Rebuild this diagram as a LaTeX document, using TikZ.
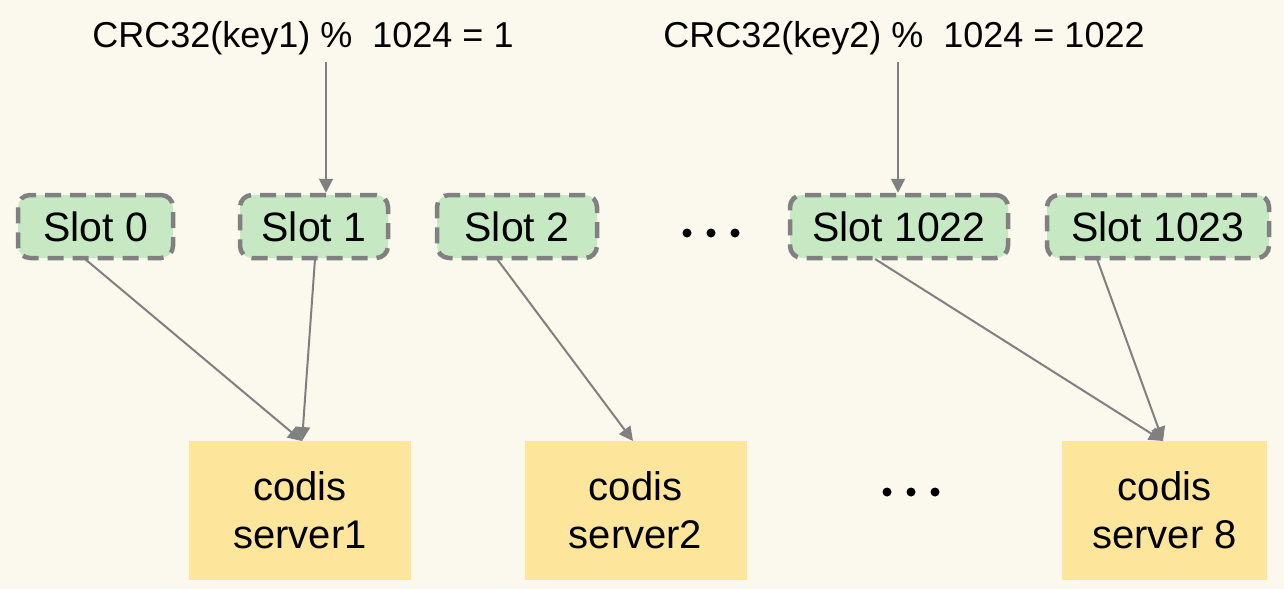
\documentclass[tikz,border=0pt]{standalone}
\usepackage{fontspec}
\setmainfont{Liberation Sans}
\usetikzlibrary{arrows.meta}
\definecolor{bg}{HTML}{FBF8EE}
\definecolor{slotfill}{HTML}{C6E8C2}
\definecolor{edge}{HTML}{808080}
\definecolor{srvfill}{HTML}{FDE59B}
\begin{document}
\begin{tikzpicture}[x=1pt,y=-1pt,
  slotbox/.style={draw=edge, fill=slotfill, line width=4.5pt, dash pattern=on 16pt off 9pt,
    rounded corners=12pt, minimum height=63pt, inner sep=0pt, font=\fontsize{41}{48}\selectfont},
  srvbox/.style={fill=srvfill, minimum width=222pt, minimum height=139pt, inner sep=0pt,
    align=center, font=\fontsize{40}{48}\selectfont},
  conn/.style={draw=edge, line width=2pt, -{Triangle[length=14pt,width=14pt]}},
  toptext/.style={font=\fontsize{36}{42}\selectfont, inner sep=0pt},
  dotmark/.style={circle, fill=black, minimum size=9pt, inner sep=0pt}]
\fill[bg] (0,0) rectangle (1284,589);
\useasboundingbox (0,0) rectangle (1284,589);

\node[toptext] (h1) at (303,38) {CRC32(key1) \%\ \ 1024 = 1};
\node[toptext] (h2) at (904,38) {CRC32(key2) \%\ \ 1024 = 1022};

\node[slotbox, minimum width=155pt] (s0) at (95.5,226.5) {Slot 0};
\node[slotbox, minimum width=148pt] (s1) at (314,226.5) {Slot 1};
\node[slotbox, minimum width=160pt] (s2) at (517,226.5) {Slot 2};
\node[slotbox, minimum width=218pt] (s1022) at (899,226.5) {Slot 1022};
\node[slotbox, minimum width=222pt] (s1023) at (1158,226.5) {Slot 1023};

\node[dotmark] (da1) at (687,233) {};
\node[dotmark] (da2) at (711,233) {};
\node[dotmark] (da3) at (735,233) {};

\node[srvbox] (v1) at (300,510.5) {codis\\server1};
\node[srvbox] (v2) at (635.5,510.5) {codis\\server2};
\node[srvbox, minimum width=205pt] (v8) at (1164.5,510.5) {codis\\server 8};

\node[dotmark] (db1) at (887,492) {};
\node[dotmark] (db2) at (911,492) {};
\node[dotmark] (db3) at (935,492) {};

\coordinate (t1) at (326,62);
\coordinate (t2) at (898,62);
\draw[conn] (t1) -- (t1 |- s1.north);
\draw[conn] (t2) -- (t2 |- s1022.north);

\coordinate (a0) at (85,259);
\coordinate (a1) at (315,259);
\coordinate (a2) at (497,259);
\coordinate (a3) at (875,259);
\coordinate (a4) at (1097,259);
\coordinate (e1) at (302,441);
\coordinate (e2) at (633,441);
\coordinate (e8) at (1163,441);
\draw[conn] (a0) -- (e1);
\draw[conn] (a1) -- (e1);
\draw[conn] (a2) -- (e2);
\draw[conn] (a3) -- (e8);
\draw[conn] (a4) -- (e8);
\end{tikzpicture}
\end{document}
